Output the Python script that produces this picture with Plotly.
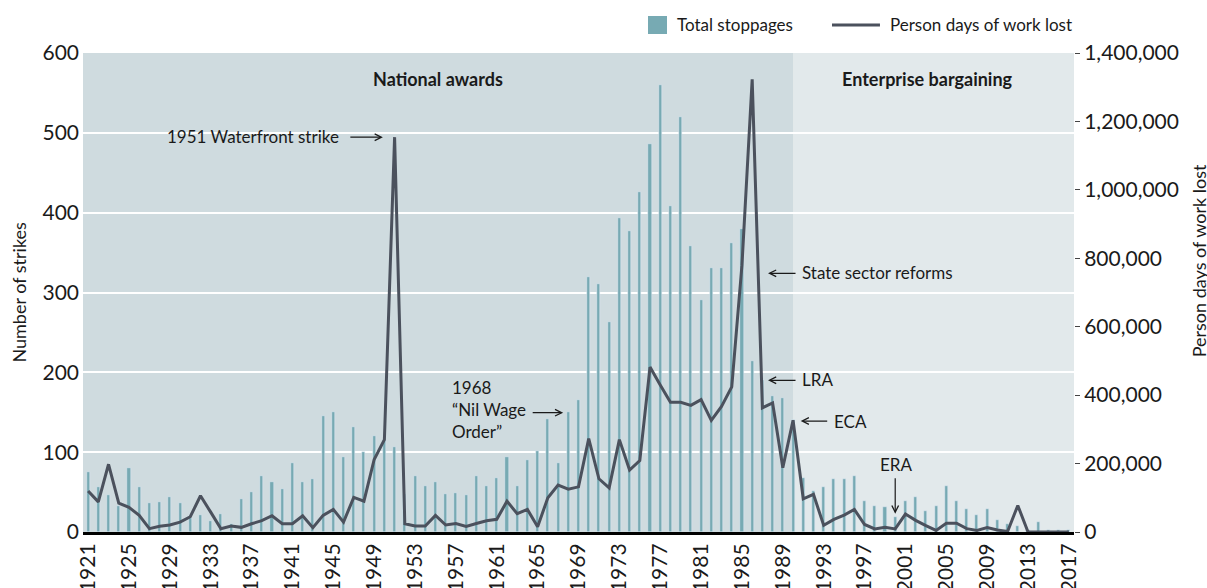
import plotly.graph_objects as go

# Work stoppages in New Zealand, 1921-2017
years = list(range(1921, 2018))

stoppages = [
    75, 56, 46, 32, 80, 56, 36, 37, 44, 36,        # 1921-1930
    18, 21, 14, 22, 10, 41, 50, 70, 63, 54,        # 1931-1940
    87, 63, 66, 145, 150, 94, 131, 100, 120, 115,  # 1941-1950
    106, 48, 70, 58, 63, 48, 49, 46, 70, 58,       # 1951-1960
    68, 94, 58, 90, 102, 141, 87, 150, 165, 320,   # 1961-1970
    311, 263, 393, 377, 426, 486, 560, 408, 520, 358,  # 1971-1980
    290, 331, 331, 362, 380, 214, 191, 170, 168, 140,  # 1981-1990
    68, 51, 56, 66, 66, 70, 39, 33, 31, 19,        # 1991-2000
    39, 44, 26, 33, 58, 39, 29, 21, 29, 15,        # 2001-2010
    10, 8, 3, 12, 3, 2, 3,                         # 2011-2017
]

days_lost = [
    120000, 88000, 198000, 84500, 72000, 48600, 9700, 16500, 20400, 29000,        # 1921-1930
    44700, 106000, 58000, 9700, 17500, 13600, 24000, 33000, 47600, 24000,        # 1931-1940
    24000, 47600, 12600, 48600, 66000, 29000, 101000, 90000, 212000, 270000,     # 1941-1950
    1154000, 24000, 17500, 17500, 48600, 20400, 25000, 16500, 25000, 33000,     # 1951-1960
    37000, 90000, 53400, 66000, 15500, 100000, 137000, 125000, 132000, 273000,  # 1961-1970
    155500, 129000, 270000, 181000, 209000, 482000, 430000, 379000, 379000, 370000,  # 1971-1980
    387000, 326500, 367000, 424000, 780000, 1323000, 363000, 377000, 188000, 326500,  # 1981-1990
    97000, 110000, 19400, 37000, 49600, 66000, 22000, 9000, 14000, 9000,         # 1991-2000
    52500, 34000, 18500, 4500, 25500, 25500, 9700, 4500, 13000, 5800,            # 2001-2010
    1500, 77500, 0, 0, 0, 0, 0,                                                   # 2011-2017
]

tick_years = list(range(1921, 2018, 4))
tick_labels = [str(y) for y in tick_years]

# policy eras shown as background panels
eras = [
    ("National awards", 1920.5, 1990.0, "#cfdbdf"),
    ("Enterprise bargaining", 1990.0, 2017.5, "#e2e9eb"),
]

BAR = "#77aab3"
LINE = "#4b515d"
TXT = "#1a1a1a"
FONT = "Lato, 'Open Sans', sans-serif"
ANN = dict(size=17, color=TXT)

fig = go.Figure()

fig.add_bar(x=years, y=stoppages, name="Total stoppages", marker_color=BAR,
            width=0.3, yaxis="y")
fig.add_scatter(x=years, y=days_lost, name="Person days of work lost", mode="lines",
                line=dict(color=LINE, width=3), yaxis="y2")

shapes = []
for name, x0, x1, col in eras:
    shapes.append(dict(type="rect", xref="x", yref="paper", x0=x0, x1=x1, y0=0, y1=1,
                       fillcolor=col, line_width=0, layer="below"))

# hand-made legend (bigger swatch than plotly's own)
shapes.append(dict(type="rect", xref="paper", yref="paper", x0=0.5701, x1=0.5893,
                   y0=1.0397, y1=1.0772, fillcolor=BAR, line_width=0))
shapes.append(dict(type="line", xref="paper", yref="paper", x0=0.7558, x1=0.8042,
                   y0=1.0585, y1=1.0585, line=dict(color=LINE, width=3)))

annotations = []
annotations.append(dict(xref="paper", yref="paper", x=0.5974, y=1.0585, xanchor="left",
                        yanchor="middle", text="Total stoppages", showarrow=False, font=ANN))
annotations.append(dict(xref="paper", yref="paper", x=0.8123, y=1.0585, xanchor="left",
                        yanchor="middle", text="Person days of work lost", showarrow=False,
                        font=ANN))

# era labels
annotations.append(dict(x=1955.2, y=567, text="<b>National awards</b>", showarrow=False,
                        font=dict(size=18, color=TXT)))
annotations.append(dict(x=2003.2, y=567, text="<b>Enterprise bargaining</b>", showarrow=False,
                        font=dict(size=18, color=TXT)))

# event labels
annotations.append(dict(x=1945.8, y=496, text="1951 Waterfront strike", showarrow=False,
                        xanchor="right", font=ANN))
annotations.append(dict(x=1956.4, y=153, text="1968<br>\u201cNil Wage<br>Order\u201d",
                        showarrow=False, xanchor="left", align="left", font=ANN))
annotations.append(dict(x=1990.7, y=325, text="State sector reforms", showarrow=False,
                        xanchor="left", font=ANN))
annotations.append(dict(x=1990.7, y=191, text="LRA", showarrow=False,
                        xanchor="left", font=ANN))
annotations.append(dict(x=1993.8, y=139, text="ECA", showarrow=False,
                        xanchor="left", font=ANN))
annotations.append(dict(x=2000.1, y=85, text="ERA", showarrow=False, font=ANN))

# arrows: (head x, head y, tail dx, tail dy)
arrows = [(1949.85, 494.5, -34, 0), (1967.5, 149.5, -32, 0),
          (1987.55, 324, 29, 0), (1987.55, 190, 29, 0), (1990.75, 139, 28, 0),
          (2000.0, 23, 0, -37)]
for hx, hy, dx, dy in arrows:
    annotations.append(dict(x=hx, y=hy, ax=dx, ay=dy, text="", showarrow=True,
                            arrowhead=5, arrowsize=1.1, arrowwidth=1.2, arrowcolor=TXT))

# axis titles
annotations.append(dict(xref="paper", yref="paper", x=-0.0655, y=0.5, xanchor="center",
                        yanchor="middle", text="Number of strikes", textangle=-90,
                        showarrow=False, font=dict(size=18, color=TXT)))
annotations.append(dict(xref="paper", yref="paper", x=1.127, y=0.567, xanchor="center",
                        yanchor="middle", text="Person days of work lost", textangle=-90,
                        showarrow=False, font=dict(size=18, color=TXT)))

fig.update_layout(
    width=1207, height=588,
    margin=dict(l=83, r=133, t=53, b=56),
    paper_bgcolor="white",
    plot_bgcolor="#e2e9eb",
    font=dict(family=FONT, color=TXT),
    bargap=0,
    shapes=shapes,
    annotations=annotations,
    showlegend=False,
    xaxis=dict(range=[1920.5, 2017.5], tickvals=tick_years, ticktext=tick_labels,
               tickangle=-90, tickfont=dict(size=21), showgrid=False, zeroline=False,
               showline=True, linecolor="black", linewidth=3, ticks="", automargin=False),
    yaxis=dict(range=[0, 600], dtick=100, tickfont=dict(size=21), showgrid=True,
               gridcolor="white", gridwidth=1.5, zeroline=False, ticks="",
               ticklabelstandoff=3, automargin=False),
    yaxis2=dict(range=[0, 1400000], dtick=200000, overlaying="y", side="right",
                tickformat=",d", tickfont=dict(size=21), showgrid=False, zeroline=False,
                ticks="outside", ticklen=5, tickcolor="#444", automargin=False),
)

fig.write_html("out.html", config={"displayModeBar": False},
               post_script="document.body.style.margin='0';")
